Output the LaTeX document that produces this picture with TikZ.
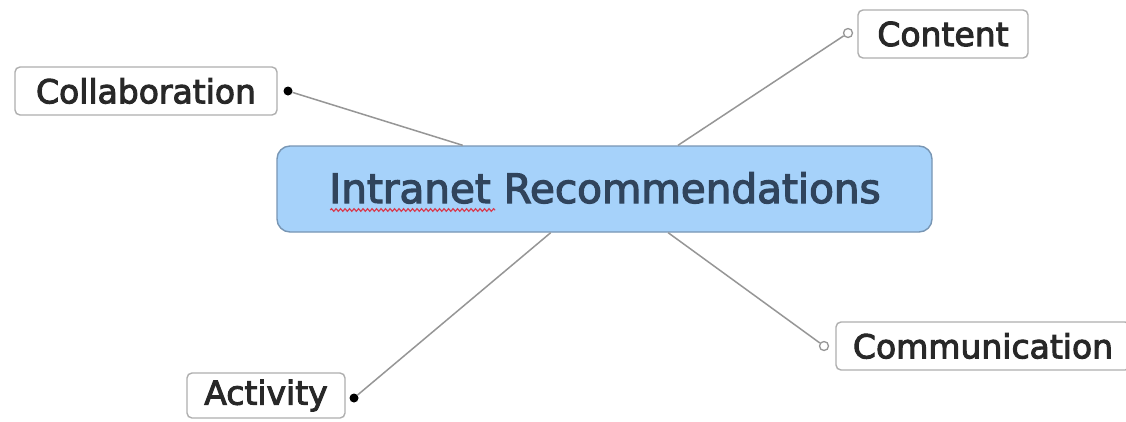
\documentclass[tikz,border=0pt]{standalone}
\usepackage{fontspec}
\setmainfont{DejaVu Sans}
\newfontfamily\heavyish[FakeBold=3]{DejaVu Sans}
\usetikzlibrary{calc,decorations.pathmorphing}
\definecolor{hubfill}{RGB}{166,210,250}
\definecolor{hubdraw}{RGB}{120,150,180}
\definecolor{hubtext}{RGB}{48,68,92}
\definecolor{leafdraw}{RGB}{175,175,175}
\definecolor{linkgray}{RGB}{150,150,150}
\definecolor{leaftext}{RGB}{40,40,40}
\definecolor{spellred}{RGB}{215,60,80}
\tikzset{
  leaf/.style={draw=leafdraw, line width=1.4pt, fill=white, rounded corners=5pt,
    inner sep=0pt, text=leaftext, font=\heavyish\fontsize{33}{33}\selectfont},
  hub/.style={draw=hubdraw, line width=1.4pt, fill=hubfill, rounded corners=13pt,
    inner sep=0pt},
  hubtitle/.style={text=hubtext, font=\heavyish\fontsize{40.5}{40.5}\selectfont, inner sep=0pt},
  link/.style={draw=linkgray, line width=1.5pt},
  soliddot/.style={circle, fill=black, inner sep=0pt, minimum size=9pt},
  opendot/.style={circle, draw=linkgray, fill=white, line width=1.3pt, inner sep=0pt, minimum size=9pt}
}
\begin{document}
\begin{tikzpicture}[x=1pt,y=-1pt]
\useasboundingbox (0,0) rectangle (1126,421);
\fill[white] (0,0) rectangle (1126,421);

% central topic
\node[hub, minimum width=655pt, minimum height=86pt] (main) at (604.5,189) {};
\node[hubtitle, anchor=base] (title) at (605,203) {Intranet Recommendations};

% subtopics
\node[leaf, minimum width=262pt, minimum height=48pt] (collab) at (146,91) {Collaboration};
\node[leaf, minimum width=170pt, minimum height=48pt] (content) at (943,34) {Content};
\node[leaf, minimum width=294pt, minimum height=48pt] (comm) at (983,346) {Communication};
\node[leaf, minimum width=158pt, minimum height=45pt] (activity) at (266,395.5) {Activity};

% connector end markers
\node[soliddot] (collabdot) at (288,91) {};
\node[opendot] (contentdot) at (848,33) {};
\node[opendot] (commdot) at (824,346) {};
\node[soliddot] (activitydot) at (354,398) {};

% attachment points on the central topic
\coordinate (mA) at ($(main.north west)!0.284!(main.north east)$);
\coordinate (mB) at ($(main.north west)!0.612!(main.north east)$);
\coordinate (mC) at ($(main.south west)!0.418!(main.south east)$);
\coordinate (mD) at ($(main.south west)!0.597!(main.south east)$);

\draw[link] (collabdot) -- (mA);
\draw[link] (contentdot) -- (mB);
\draw[link] (activitydot) -- (mC);
\draw[link] (commdot) -- (mD);

% spell-check underline
\coordinate (sqA) at ($(title.base west)+(1,7)$);
\coordinate (sqB) at ($(title.base west)+(166,7)$);
\draw[spellred, line width=1.2pt, decorate, decoration={snake, amplitude=1.3pt, segment length=4.5pt}] (sqA) -- (sqB);
\end{tikzpicture}
\end{document}
